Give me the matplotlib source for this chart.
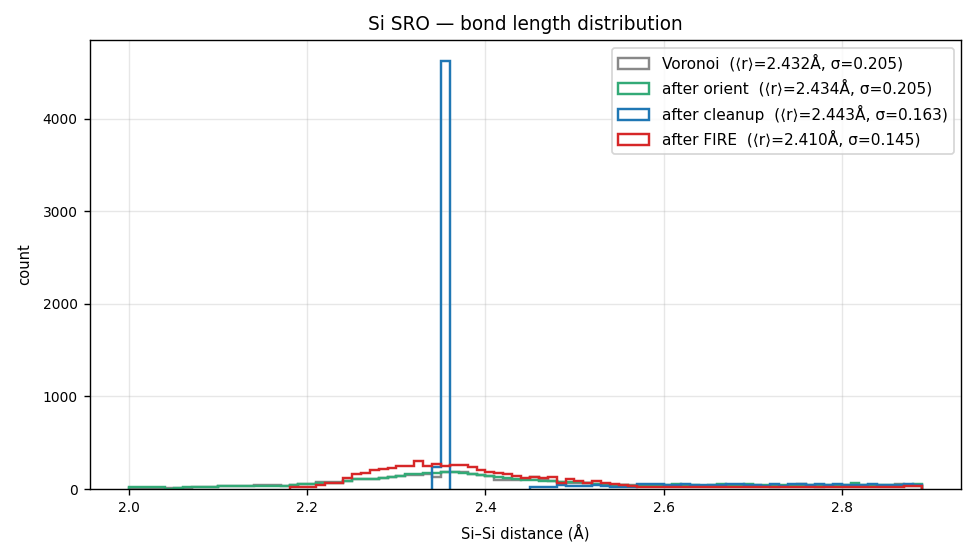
import numpy as np
import matplotlib
matplotlib.use("Agg")
import matplotlib.pyplot as plt
from matplotlib.patches import Patch

# bond length histogram, bins of 0.01 A from 2.00 to 2.89
edges = np.round(np.arange(2.00, 2.895, 0.01), 2)

voronoi = [15, 15, 15, 15, 8, 12, 15, 18, 20, 22,
           38, 30, 32, 30, 48, 40, 48, 38, 45, 50,
           55, 79, 79, 79, 86, 104, 104, 108, 115, 126,
           140, 150, 155, 160, 133, 187, 185, 180, 165, 150,
           140, 97, 97, 100, 105, 126, 95, 90, 76, 70,
           65, 60, 55, 50, 45, 42, 40, 35, 32, 30,
           30, 28, 32, 30, 30, 28, 30, 30, 32, 30,
           30, 28, 25, 30, 30, 58, 35, 25, 30, 30,
           32, 30, 30, 35, 30, 30, 58, 32, 30]

orient = [18, 18, 18, 18, 5, 15, 18, 18, 20, 22,
          30, 28, 28, 28, 32, 30, 35, 35, 45, 54,
          54, 68, 68, 68, 86, 104, 104, 108, 115, 126,
          140, 162, 162, 176, 176, 180, 180, 178, 162, 151,
          140, 126, 118, 110, 100, 95, 86, 90, 76, 76,
          80, 65, 55, 50, 45, 40, 38, 32, 30, 35,
          40, 58, 45, 40, 35, 40, 58, 40, 35, 58,
          45, 40, 38, 45, 42, 40, 40, 40, 40, 42,
          45, 68, 40, 42, 47, 47, 40, 45, 58]

# empty bins (no bonds) are left as NaN so no step is drawn there
cleanup = [np.nan] * 34 + [240, 4620] + [np.nan] * 9 + [
           25, 25, 25, 43, 32,
           32, 32, 43, 30, 25, 25, 25, 50, 50, 50,
           47, 47, 50, 47, 45, 40, 45, 58, 58, 45,
           45, 32, 58, 32, 58, 58, 45, 58, 45, 58,
           45, 45, 45, 58, 47, 47, 45, 58, 47]

fire = [np.nan] * 18 + [20, 25,
        25, 43, 68, 68, 115, 162, 176, 205, 212, 230,
        252, 252, 305, 252, 270, 252, 260, 260, 243, 205,
        187, 169, 158, 144, 115, 133, 115, 126, 68, 104,
        90, 61, 83, 61, 50, 43, 36, 25, 25, 25,
        25, 20, 25, 20, 22, 25, 20, 22, 25, 22,
        22, 25, 22, 25, 22, 20, 22, 25, 22, 25,
        25, 22, 25, 22, 25, 25, 25, 30, 30]

labels = ["Voronoi  (\u27e8r\u27e9=2.432\u00c5, \u03c3=0.205)",
          "after orient  (\u27e8r\u27e9=2.434\u00c5, \u03c3=0.205)",
          "after cleanup  (\u27e8r\u27e9=2.443\u00c5, \u03c3=0.163)",
          "after FIRE  (\u27e8r\u27e9=2.410\u00c5, \u03c3=0.145)"]
colors = ["#888888", "#33aa77", "#1f77b4", "#d62728"]


def segments(vals):
    # split a histogram into runs of non-empty bins
    v = np.asarray(vals, dtype=float)
    ok = ~np.isnan(v)
    runs, i = [], 0
    while i < len(v):
        if ok[i]:
            j = i
            while j < len(v) and ok[j]:
                j += 1
            runs.append((i, j))
            i = j
        else:
            i += 1
    return v, runs


fig, ax = plt.subplots(figsize=(7.8, 4.456), dpi=125)
fig.subplots_adjust(left=0.092, right=0.986, top=0.928, bottom=0.122)

handles = []
for vals, lab, c in zip([voronoi, orient, cleanup, fire], labels, colors):
    v, runs = segments(vals)
    for i, j in runs:
        ax.stairs(v[i:j], edges[i:j + 1], baseline=0, color=c, linewidth=1.4)
    handles.append(Patch(facecolor="none", edgecolor=c, linewidth=1.4, label=lab))

ax.set_xlim(1.9555, 2.9345)
ax.set_ylim(0, 4851)
ax.grid(True, alpha=0.3)
ax.set_axisbelow(True)
ax.tick_params(labelsize=8)
ax.set_xlabel("Si\u2013Si distance (\u00c5)", fontsize=8.5, labelpad=5)
ax.set_ylabel("count", fontsize=8.5, labelpad=6)
ax.set_title("Si SRO \u2014 bond length distribution", fontsize=10.7)
ax.legend(handles=handles, loc="upper right", fontsize=8.9)

fig.savefig("out.png", dpi=125)
